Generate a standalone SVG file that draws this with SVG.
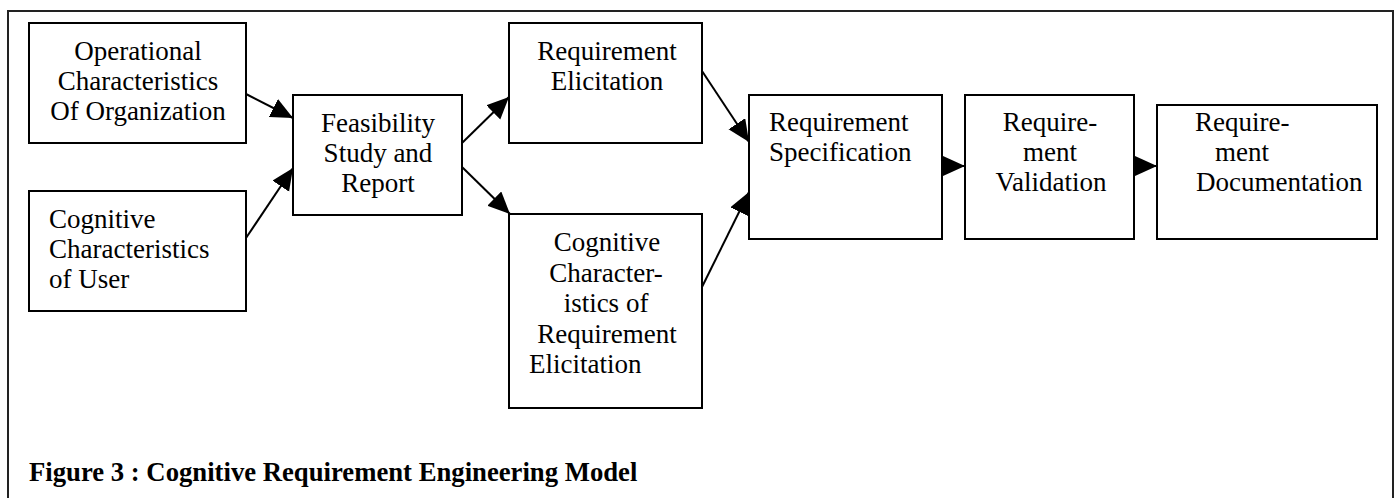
<svg xmlns="http://www.w3.org/2000/svg" width="1399" height="498" viewBox="0 0 1399 498">
<style>
.box{fill:#fff;stroke:#000;stroke-width:2}
.t{font-family:"Liberation Serif","Times New Roman",Tinos,"DejaVu Serif",serif;font-size:27px;fill:#000}
.c{text-anchor:middle}
.cap{font-family:"Liberation Serif","Times New Roman",Tinos,"DejaVu Serif",serif;font-size:26.7px;font-weight:bold;fill:#000}
.ln{stroke:#000;stroke-width:2;fill:none;marker-end:url(#ah)}
</style>
<defs>
<marker id="ah" markerUnits="userSpaceOnUse" markerWidth="23" markerHeight="21" refX="22" refY="10" orient="auto" viewBox="0 0 23 21">
<path d="M0,0 L22,10 L0,20 z" fill="#000"/>
</marker>
</defs>
<rect x="0" y="0" width="1399" height="498" fill="#fff"/>
<rect id="frame" x="8" y="11" width="1385" height="500" fill="none" stroke="#222" stroke-width="2"/>
<g id="n-operational">
<rect class="box" x="29" y="23" width="217" height="120"/>
<text class="t c" x="138" y="60">Operational</text>
<text class="t c" x="138" y="90">Characteristics</text>
<text class="t c" x="138" y="120">Of Organization</text>
</g>
<g id="n-cog-user">
<rect class="box" x="29" y="191" width="217" height="120"/>
<text class="t" x="49" y="228">Cognitive</text>
<text class="t" x="49" y="258">Characteristics</text>
<text class="t" x="49" y="288">of User</text>
</g>
<g id="n-feasibility">
<rect class="box" x="293" y="95" width="169" height="120"/>
<text class="t c" x="378" y="132">Feasibility</text>
<text class="t c" x="378" y="162">Study and</text>
<text class="t c" x="378" y="192">Report</text>
</g>
<g id="n-req-elic">
<rect class="box" x="509" y="23" width="193" height="120"/>
<text class="t c" x="607" y="60">Requirement</text>
<text class="t c" x="607" y="90">Elicitation</text>
</g>
<g id="n-cog-elic">
<rect class="box" x="509" y="214" width="193" height="194"/>
<text class="t c" x="607" y="251">Cognitive</text>
<text class="t c" x="606" y="282">Character-</text>
<text class="t c" x="606" y="312">istics of</text>
<text class="t c" x="607" y="343">Requirement</text>
<text class="t" x="529" y="373">Elicitation</text>
</g>
<g id="n-req-spec">
<rect class="box" x="749" y="95" width="193" height="144"/>
<text class="t" x="769" y="131">Requirement</text>
<text class="t" x="769" y="161">Specification</text>
</g>
<g id="n-req-val">
<rect class="box" x="965" y="95" width="169" height="144"/>
<text class="t c" x="1050" y="131">Require-</text>
<text class="t c" x="1050" y="161">ment</text>
<text class="t c" x="1051" y="191">Validation</text>
</g>
<g id="n-req-doc">
<rect class="box" x="1157" y="105" width="220" height="134"/>
<text class="t" x="1195" y="131">Require-</text>
<text class="t" x="1215" y="161">ment</text>
<text class="t" x="1196" y="191">Documentation</text>
</g>
<g id="connectors">
<line class="ln" x1="246" y1="94" x2="293" y2="118"/>
<line class="ln" x1="246" y1="238" x2="293" y2="168"/>
<line class="ln" x1="462" y1="143" x2="509" y2="97"/>
<line class="ln" x1="462" y1="167" x2="510" y2="214"/>
<line class="ln" x1="702" y1="71" x2="749" y2="142"/>
<line class="ln" x1="702" y1="287" x2="749" y2="192"/>
<line class="ln" x1="942" y1="166" x2="965" y2="166"/>
<line class="ln" x1="1134" y1="166" x2="1157" y2="166"/>
</g>
<text id="caption" class="cap" x="29" y="481">Figure 3 : Cognitive Requirement Engineering Model</text>
</svg>
